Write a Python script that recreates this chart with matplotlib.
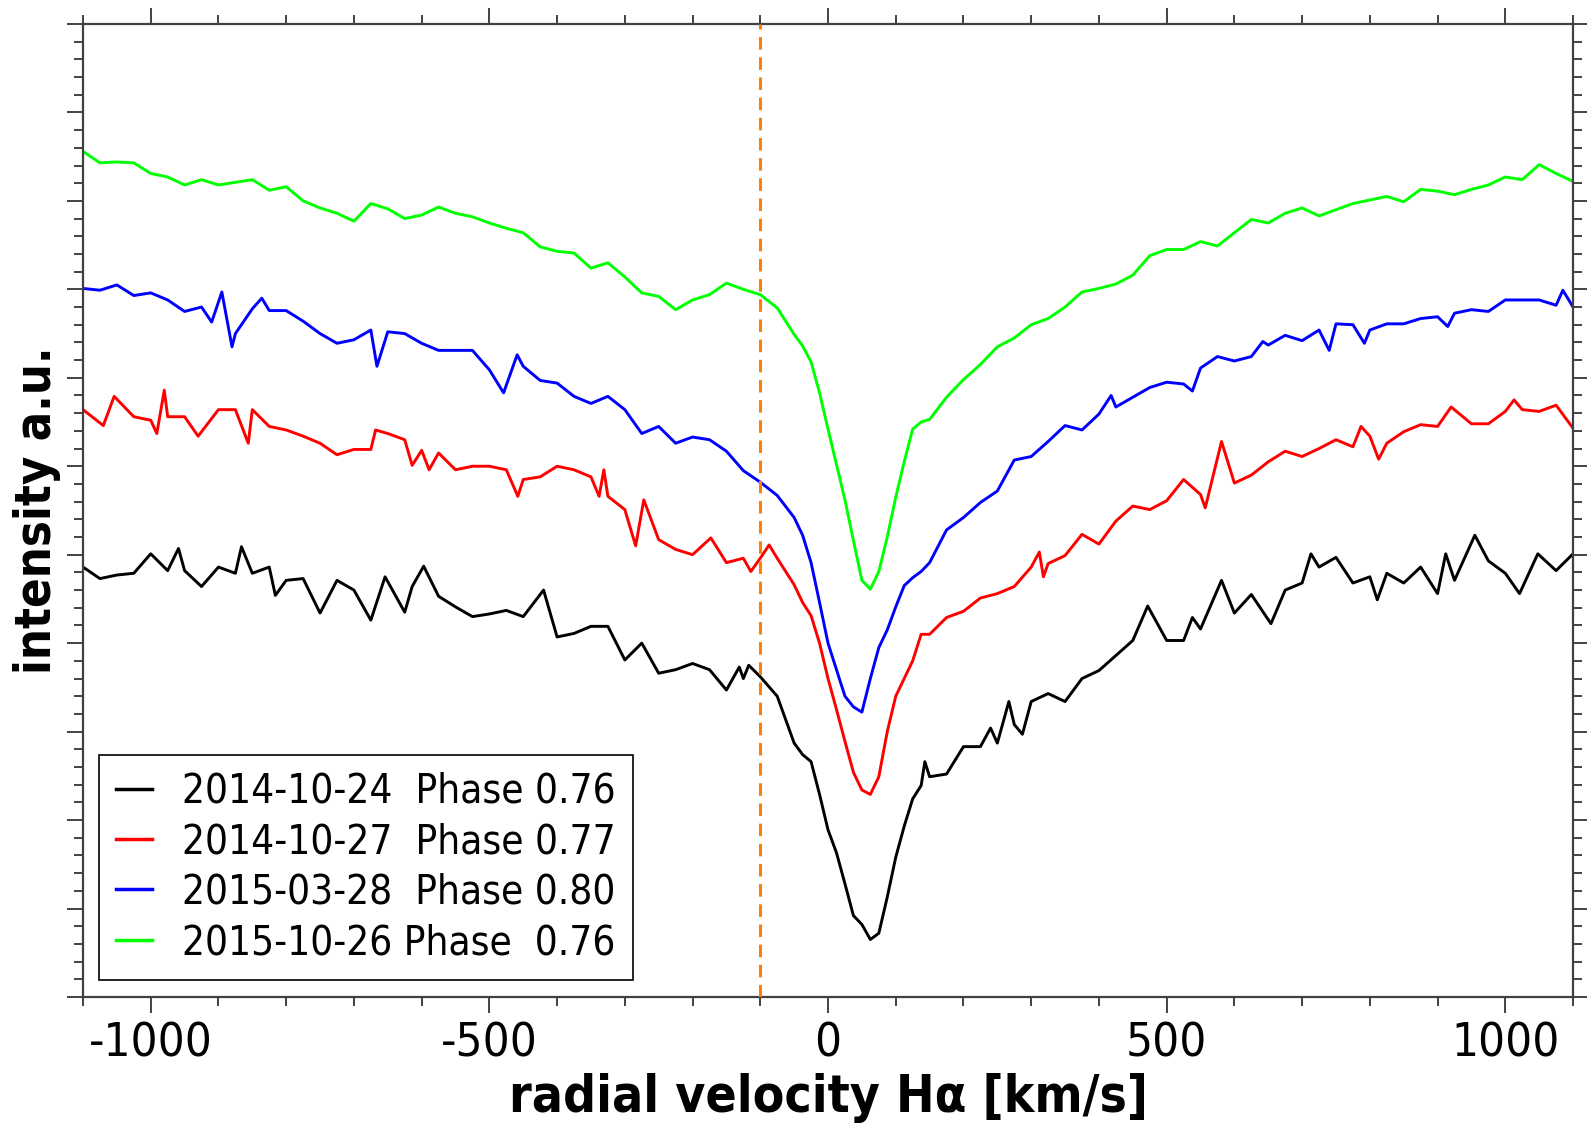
import matplotlib
matplotlib.use("Agg")
import matplotlib.pyplot as plt
from matplotlib.ticker import MultipleLocator

plt.rcParams['font.family'] = 'DejaVu Sans'
plt.rcParams['font.stretch'] = 'condensed'
plt.rcParams['axes.unicode_minus'] = False

# H-alpha profiles, shifted vertically for display (arbitrary units)
# each spectrum has its own velocity sampling (km/s)
vel_20141024 = [-1100, -1075, -1050, -1025, -1000, -975, -959, -950, -925, -900,
                -875, -866, -850, -825, -816, -800, -775, -750, -725, -700,
                -675, -654, -625, -614, -597, -575, -550, -525, -500, -475,
                -450, -420, -400, -375, -350, -325, -300, -275, -250, -225,
                -200, -175, -150, -131, -125, -117, -100, -75, -50,
                -37.5, -25, -12.5, 0, 12.5, 25, 37.5, 50, 62.5, 75, 87.5,
                100, 112.5, 125, 137.5, 143, 150,
                175, 200, 225, 240, 250, 267, 275, 287, 300, 325,
                350, 375, 400, 425, 450, 472, 500, 525, 538, 550,
                581, 600, 625, 654, 675, 700, 713, 725, 750, 775,
                800, 811, 825, 850, 875, 900, 912, 925, 955, 975,
                1000, 1021, 1048, 1075, 1100]
flux_20141024 = [4.86, 4.73, 4.77, 4.79, 5.01, 4.82, 5.07, 4.82, 4.64, 4.86,
                 4.79, 5.09, 4.79, 4.86, 4.54, 4.71, 4.73, 4.34, 4.71, 4.60,
                 4.26, 4.75, 4.35, 4.64, 4.87, 4.53, 4.41, 4.30, 4.33, 4.37,
                 4.30, 4.60, 4.07, 4.11, 4.19, 4.19, 3.81, 4.00, 3.66, 3.70,
                 3.77, 3.70, 3.47, 3.73, 3.60, 3.75, 3.62, 3.40, 2.87,
                 2.74, 2.66, 2.29, 1.89, 1.63, 1.28, 0.92, 0.82, 0.65, 0.72, 1.13,
                 1.58, 1.93, 2.24, 2.39, 2.66, 2.49,
                 2.52, 2.83, 2.83, 3.04, 2.87, 3.34, 3.08, 2.97, 3.34, 3.43,
                 3.34, 3.60, 3.69, 3.86, 4.03, 4.42, 4.03, 4.03, 4.29, 4.16,
                 4.71, 4.34, 4.55, 4.22, 4.60, 4.68, 5.01, 4.86, 4.97, 4.68,
                 4.75, 4.49, 4.79, 4.68, 4.86, 4.56, 5.01, 4.71, 5.22, 4.93,
                 4.79, 4.56, 5.01, 4.82, 5.01]

vel_20141027 = [-1100, -1070, -1054, -1025, -1000, -991, -980, -975, -950, -930,
                -900, -875, -856, -850, -825, -800, -775, -750, -725, -700,
                -675, -668, -650, -625, -614, -600, -589, -575, -550, -525,
                -500, -475, -458, -450, -425, -400, -375, -350, -338, -331,
                -325, -300, -284, -272, -250, -225, -200, -173, -150, -125,
                -114, -100, -87, -75, -50,
                -37.5, -25, -12.5, 0, 12.5, 25, 37.5, 50, 62.5, 75, 87.5,
                100, 112.5, 125, 137.5, 150,
                175, 200, 225, 250, 275, 300, 312, 318, 325, 350,
                375, 400, 425, 450, 475, 500, 525, 550, 557, 581,
                600, 625, 650, 675, 700, 725, 750, 775, 787, 800,
                813, 825, 850, 875, 900, 920, 950, 975, 1000, 1013,
                1025, 1050, 1075, 1100]
flux_20141027 = [6.64, 6.46, 6.79, 6.56, 6.52, 6.37, 6.86, 6.56, 6.56, 6.34,
                 6.64, 6.64, 6.26, 6.64, 6.45, 6.41, 6.34, 6.26, 6.13, 6.19,
                 6.19, 6.41, 6.37, 6.30, 6.01, 6.18, 5.96, 6.15, 5.96, 6.00,
                 6.00, 5.96, 5.66, 5.85, 5.88, 6.00, 5.96, 5.88, 5.66, 5.96,
                 5.66, 5.51, 5.10, 5.62, 5.17, 5.06, 5.00, 5.19, 4.91, 4.96,
                 4.81, 4.96, 5.11, 4.96, 4.66,
                 4.46, 4.31, 4.00, 3.60, 3.25, 2.89, 2.54, 2.34, 2.29, 2.49, 3.00,
                 3.40, 3.60, 3.80, 4.10, 4.10,
                 4.29, 4.36, 4.51, 4.56, 4.64, 4.86, 5.03, 4.75, 4.90, 4.99,
                 5.23, 5.12, 5.38, 5.55, 5.51, 5.61, 5.85, 5.68, 5.53, 6.28,
                 5.81, 5.90, 6.05, 6.17, 6.11, 6.20, 6.30, 6.22, 6.45, 6.34,
                 6.08, 6.26, 6.39, 6.47, 6.45, 6.67, 6.48, 6.48, 6.62, 6.75,
                 6.64, 6.62, 6.69, 6.43]

vel_20150328 = [-1100, -1075, -1050, -1025, -1000, -975, -950, -925, -910, -895,
                -880, -875, -850, -836, -825, -800, -775, -750, -725, -700,
                -675, -666, -650, -625, -600, -575, -550, -525, -500, -479,
                -459, -450, -425, -400, -375, -350, -325, -300, -275, -250,
                -225, -200, -175, -150, -125, -100, -75, -50,
                -37.5, -25, -12.5, 0, 12.5, 25, 37.5, 50, 62.5, 75, 87.5,
                100, 112.5, 125, 137.5, 150,
                175, 200, 225, 250, 275, 300, 325, 350, 375, 400,
                418, 425, 450, 475, 500, 525, 538, 550, 575, 600,
                625, 642, 650, 675, 700, 725, 740, 750, 775, 792,
                800, 825, 850, 875, 900, 915, 925, 950, 975, 1000,
                1025, 1050, 1075, 1085, 1100]
flux_20150328 = [8.01, 7.99, 8.05, 7.93, 7.96, 7.88, 7.75, 7.80, 7.63, 7.97,
                 7.35, 7.50, 7.78, 7.90, 7.76, 7.76, 7.64, 7.50, 7.39, 7.43,
                 7.54, 7.13, 7.52, 7.50, 7.39, 7.31, 7.31, 7.31, 7.09, 6.83,
                 7.26, 7.13, 6.97, 6.94, 6.79, 6.71, 6.79, 6.64, 6.37, 6.45,
                 6.26, 6.33, 6.30, 6.17, 5.95, 5.82, 5.67, 5.42,
                 5.22, 4.91, 4.46, 4.00, 3.70, 3.40, 3.28, 3.22, 3.60, 3.95, 4.15,
                 4.41, 4.65, 4.74, 4.81, 4.91,
                 5.28, 5.42, 5.59, 5.72, 6.07, 6.11, 6.28, 6.46, 6.41, 6.59,
                 6.80, 6.67, 6.78, 6.89, 6.95, 6.93, 6.85, 7.11, 7.24, 7.19,
                 7.24, 7.41, 7.37, 7.48, 7.42, 7.54, 7.31, 7.61, 7.60, 7.39,
                 7.54, 7.61, 7.61, 7.67, 7.69, 7.58, 7.73, 7.77, 7.75, 7.88,
                 7.88, 7.88, 7.82, 7.99, 7.80]

vel_20151026 = [-1100, -1075, -1050, -1025, -1000, -975, -950, -925, -900, -875,
                -850, -825, -800, -775, -750, -725, -700, -675, -650, -625,
                -600, -575, -550, -525, -500, -475, -450, -425, -400, -375,
                -350, -325, -300, -275, -250, -225, -200, -175, -150, -125,
                -100, -75, -50,
                -37.5, -25, -12.5, 0, 12.5, 25, 37.5, 50, 62.5, 75, 87.5,
                100, 112.5, 125, 137.5, 150,
                175, 200, 225, 250, 275, 300, 325, 350, 375, 400,
                425, 450, 475, 500, 525, 550, 575, 600, 625, 650,
                675, 700, 725, 750, 775, 800, 825, 850, 875, 900,
                925, 950, 975, 1000, 1025, 1050, 1075, 1100]
flux_20151026 = [9.56, 9.43, 9.44, 9.43, 9.31, 9.27, 9.18, 9.24, 9.18, 9.21,
                 9.24, 9.12, 9.16, 9.00, 8.92, 8.86, 8.77, 8.97, 8.91, 8.80,
                 8.84, 8.93, 8.86, 8.82, 8.75, 8.69, 8.64, 8.48, 8.43, 8.41,
                 8.24, 8.30, 8.14, 7.96, 7.92, 7.77, 7.88, 7.94, 8.07, 8.00,
                 7.94, 7.79, 7.49,
                 7.36, 7.18, 6.83, 6.42, 6.02, 5.62, 5.16, 4.71, 4.61, 4.81, 5.20,
                 5.65, 6.05, 6.42, 6.50, 6.53,
                 6.78, 6.98, 7.15, 7.35, 7.45, 7.60, 7.67, 7.80, 7.97, 8.01,
                 8.06, 8.16, 8.38, 8.45, 8.45, 8.54, 8.49, 8.64, 8.79, 8.75,
                 8.86, 8.92, 8.83, 8.90, 8.97, 9.01, 9.05, 8.99, 9.13, 9.11,
                 9.07, 9.13, 9.18, 9.27, 9.24, 9.41, 9.31, 9.22]

labels = ['2014-10-24  Phase 0.76', '2014-10-27  Phase 0.77',
          '2015-03-28  Phase 0.80', '2015-10-26 Phase  0.76']
colors = ['#000000', '#ff0000', '#0000ff', '#00ff00']
marker_velocity = -100

fig = plt.figure(figsize=(15.87, 11.26), dpi=100)
ax = fig.add_axes([0.0523, 0.1146, 0.9389, 0.8641])

spectra = [(vel_20141024, flux_20141024), (vel_20141027, flux_20141027),
           (vel_20150328, flux_20150328), (vel_20151026, flux_20151026)]
for (vel, flux), lab, col in zip(spectra, labels, colors):
    ax.plot(vel, flux, color=col, lw=2.1, label=lab)

ax.axvline(marker_velocity, color='#ff8000', lw=2.2, ls=(0, (4.1, 2.5)), zorder=5)

ax.set_xlim(-1100, 1100)
ax.set_ylim(0, 11)
ax.xaxis.set_major_locator(MultipleLocator(500))
ax.xaxis.set_minor_locator(MultipleLocator(100))
ax.yaxis.set_major_locator(MultipleLocator(1))
ax.yaxis.set_minor_locator(MultipleLocator(0.2))

ax.tick_params(which='major', direction='out', length=11.5, width=1.2,
               top=True, right=True, color='#222222', labelsize=34, pad=6)
ax.tick_params(which='minor', direction='out', length=6.5, width=1.2,
               top=True, right=True, color='#222222')
ax.tick_params(axis='y', labelleft=False)
for sp in ax.spines.values():
    sp.set_linewidth(1.6)
    sp.set_color('#404040')

ax.set_xlabel('radial velocity Hα [km/s]', fontsize=37, fontweight='bold', labelpad=5)
ax.set_ylabel('intensity a.u.', fontsize=35, fontweight='bold', labelpad=4)

leg = ax.legend(loc='lower left', bbox_to_anchor=(0.0107, 0.0175), borderaxespad=0,
                fontsize=29, handlelength=0.9, handletextpad=0.75,
                labelspacing=0.26, borderpad=0.42, fancybox=False,
                edgecolor='black', framealpha=1)
leg.get_frame().set_linewidth(1.2)
for line in leg.get_lines():
    line.set_linewidth(2.5)

fig.savefig('out.png', dpi=100)
